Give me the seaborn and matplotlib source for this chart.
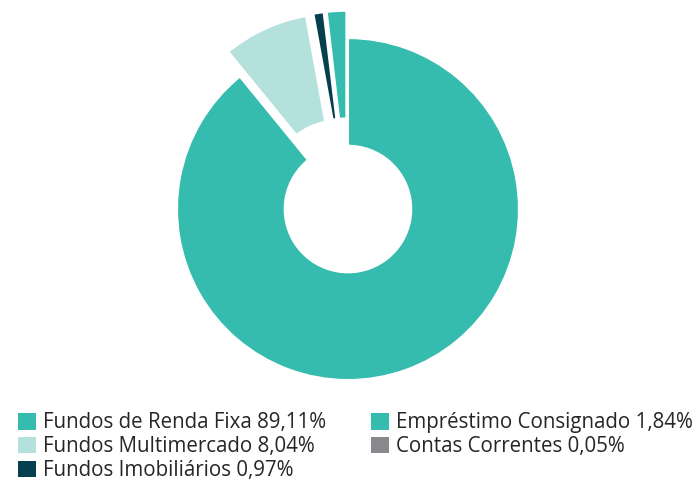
import matplotlib
matplotlib.use("Agg")
import matplotlib.pyplot as plt
from matplotlib.patches import Patch
import seaborn as sns

labels = ["Fundos de Renda Fixa", "Fundos Multimercado", "Fundos Imobiliários",
          "Contas Correntes", "Empréstimo Consignado"]
values = [89.11, 8.04, 0.97, 0.05, 1.84]
value_text = ["89,11%", "8,04%", "0,97%", "0,05%", "1,84%"]
colors = ["#36BCAF", "#B4E1DC", "#063F4E", "#88888D", "#36BCAF"]
explode = [0, 0.16, 0.16, 0.16, 0.16]

sns.set_theme(style="white")
plt.rcParams["font.family"] = ["Open Sans", "DejaVu Sans"]

fig = plt.figure(figsize=(6.97, 4.83), dpi=100)
ax = fig.add_axes([0.1926, 0.1247, 0.6133, 0.885])
ax.pie(values, colors=colors, explode=explode, startangle=90, counterclock=False,
       radius=1, wedgeprops=dict(width=0.63, edgecolor="white", linewidth=1.5))
ax.set_xlim(-1.25, 1.25)
ax.set_ylim(-1.25, 1.25)
ax.set_aspect("equal")
ax.axis("off")

# legend order: column-major, two columns
order = [0, 1, 2, 4, 3]
handles = [Patch(facecolor=colors[i], edgecolor="none") for i in order]
texts = [f"{labels[i]} {value_text[i]}" for i in order]
fig.legend(handles, texts, ncol=2, loc="upper left", bbox_to_anchor=(0.026, 0.146),
           frameon=False, fontsize=14.8, handlelength=0.85, handleheight=0.85,
           handletextpad=0.35, labelspacing=0.14, columnspacing=2.2, borderpad=0,
           borderaxespad=0)

fig.savefig("out.png", dpi=100)
